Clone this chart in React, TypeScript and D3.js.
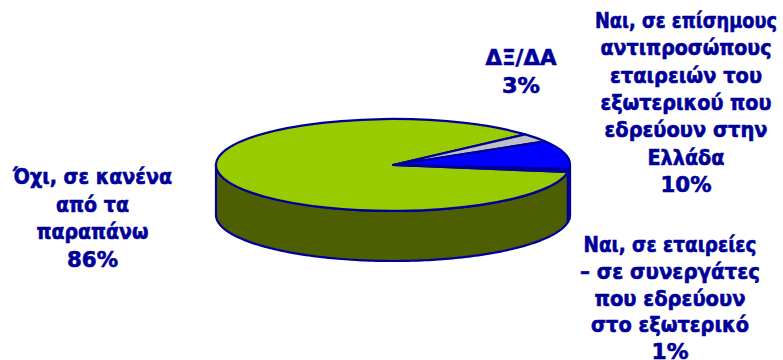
import React from "react";
import * as d3 from "d3";

const categories = ["Όχι, σε κανένα", "ΔΞ/ΔΑ", "Ναι, σε επίσημους", "Ναι, σε εταιρείες"];
const values = [86, 3, 10, 1];
const topColors = ["#99cc00", "#c0c0c0", "#0000ff", "#000099"];
const sideColors = ["#4d5f00", "#60606a", "#000099", "#000099"];

const labelLines = [
  ["Όχι, σε κανένα", "από τα", "παραπάνω", "86%"],
  ["ΔΞ/ΔΑ", "3%"],
  ["Ναι, σε επίσημους", "αντιπροσώπους", "εταιρειών του", "εξωτερικού που", "εδρεύουν στην", "Ελλάδα", "10%"],
  ["Ναι, σε εταιρείες", "– σε συνεργάτες", "που εδρεύουν", "στο εξωτερικό", "1%"],
];
const lineWidths = [
  [159, 73, 112, 51],
  [71, 38],
  [182, 171, 152, 171, 163, 77, 51],
  [173, 180, 151, 158, 37],
];
const labelPos = [
  { x: 92.5, y: 184, lh: 27.7 },
  { x: 521, y: 65, lh: 28 },
  { x: 686, y: 28, lh: 27.3 },
  { x: 670, y: 252, lh: 26.8 },
];

const W = 783, H = 360;
const cx = 393, cy = 165, rx = 177, ry = 46, depth = 50;
const BORDER = "#000099";

export default function App() {
  const pie = d3.pie<number>().sort(null)
    .startAngle((98.7 * Math.PI) / 180)
    .endAngle((98.7 * Math.PI) / 180 + 2 * Math.PI);
  const arcs = pie(values);
  const arcGen = d3.arc<d3.PieArcDatum<number>>().innerRadius(0).outerRadius(1);

  const px = (a: number) => cx + rx * Math.sin(a);
  const py = (a: number) => cy - ry * Math.cos(a);

  const sidePath = (a0: number, a1: number) => {
    const n = Math.max(2, Math.ceil(Math.abs(a1 - a0) / 0.02));
    const angles = d3.range(n + 1).map((i) => a0 + ((a1 - a0) * i) / n);
    const line = d3.line<[number, number]>();
    const top = angles.map((a) => [px(a), py(a)] as [number, number]);
    const bottom = angles.map((a) => [px(a), py(a) + depth] as [number, number]).reverse();
    return line([...top, ...bottom]) + "Z";
  };

  const sides: { d: string; fill: string }[] = [];
  arcs.forEach((s, i) => {
    for (const k of [0, 2 * Math.PI]) {
      const a0 = Math.max(s.startAngle, Math.PI / 2 + k);
      const a1 = Math.min(s.endAngle, (3 * Math.PI) / 2 + k);
      if (a1 > a0) sides.push({ d: sidePath(a0, a1), fill: sideColors[i] });
    }
  });

  return (
    <svg width={W} height={H} style={{ position: "absolute", left: 0, top: 0, background: "#fff" }}>
      {sides.map((s, i) => (
        <path key={i} d={s.d} fill={s.fill} stroke={BORDER} strokeWidth={2.2} strokeLinejoin="round" />
      ))}
      {arcs.map((s, i) => (
        <path
          key={categories[i]}
          d={arcGen(s) as string}
          transform={`translate(${cx},${cy}) scale(${rx},${ry})`}
          fill={topColors[i]}
          stroke={BORDER}
          strokeWidth={2.2}
          strokeLinejoin="round"
          vectorEffect="non-scaling-stroke"
        />
      ))}
      {labelLines.map((lines, i) =>
        lines.map((t, j) => (
          <text
            key={`${i}-${j}`}
            x={labelPos[i].x}
            y={labelPos[i].y + j * labelPos[i].lh}
            textAnchor="middle"
            fontFamily="'DejaVu Sans', Verdana, sans-serif"
            fontWeight="bold"
            fontSize={20.5}
            fill={BORDER}
            stroke={BORDER}
            strokeWidth={0.6}
            textLength={lineWidths[i][j]}
            lengthAdjust="spacingAndGlyphs"
          >
            {t}
          </text>
        ))
      )}
    </svg>
  );
}
